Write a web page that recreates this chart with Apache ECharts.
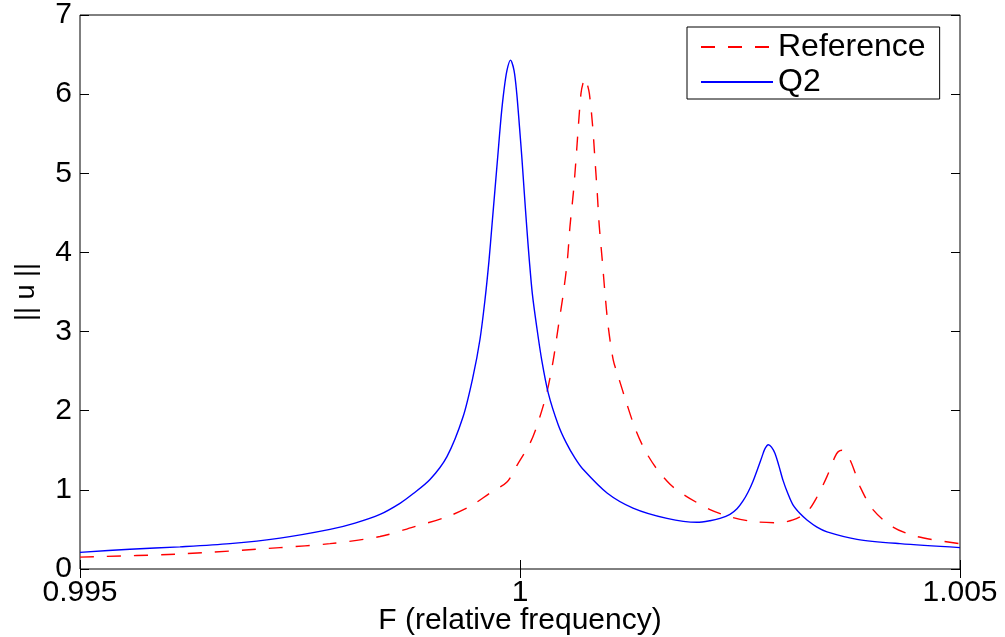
<!DOCTYPE html>
<html>
<head>
<meta charset="utf-8">
<script src="https://cdn.jsdelivr.net/npm/echarts@6/dist/echarts.min.js"></script>
<style>
  html, body { margin: 0; padding: 0; background: #fff; }
  #chart { width: 1005px; height: 637px; }
</style>
</head>
<body>
<div id="chart"></div>
<script>
// relative frequency / ||u||
var q2F = [0.995000, 0.995568, 0.996136, 0.996705, 0.997273, 0.997841, 0.998125, 0.998409, 0.998636, 0.998784,
  0.998977, 0.999170, 0.999352, 0.999466, 0.999545, 0.999602, 0.999648, 0.999682, 0.999716, 0.999750,
  0.999784, 0.999818, 0.999852, 0.999892, 0.999932, 0.999963, 0.999994, 1.000023, 1.000049, 1.000076,
  1.000106, 1.000140, 1.000190, 1.000247, 1.000322, 1.000435, 1.000523, 1.000625, 1.000716, 1.000989,
  1.001284, 1.001670, 1.002011, 1.002159, 1.002273, 1.002386, 1.002466, 1.002534, 1.002591, 1.002648,
  1.002705, 1.002750, 1.002784, 1.002822, 1.002858, 1.002898, 1.002943, 1.002989, 1.003045, 1.003102,
  1.003182, 1.003261, 1.003375, 1.003489, 1.003830, 1.004318, 1.005000];
var q2U = [0.21, 0.25, 0.28, 0.32, 0.39, 0.50, 0.58, 0.69, 0.83, 0.95,
  1.13, 1.42, 1.92, 2.43, 2.90, 3.40, 3.90, 4.35, 4.80, 5.25,
  5.70, 6.05, 6.30, 6.43, 6.30, 6.01, 5.59, 5.17, 4.75, 4.33,
  3.90, 3.48, 3.06, 2.64, 2.22, 1.82, 1.60, 1.40, 1.26, 0.96,
  0.77, 0.64, 0.59, 0.61, 0.64, 0.69, 0.76, 0.86, 0.97, 1.11,
  1.28, 1.42, 1.52, 1.57, 1.54, 1.46, 1.30, 1.12, 0.95, 0.81,
  0.70, 0.62, 0.53, 0.47, 0.375, 0.32, 0.27];

var refF = [0.995000, 0.996136, 0.997273, 0.997841, 0.998409, 0.998784, 0.999170, 0.999432, 0.999659, 0.999852,
  0.999966, 1.000114, 1.000190, 1.000303, 1.000378, 1.000435, 1.000492, 1.000538, 1.000568, 1.000606,
  1.000636, 1.000663, 1.000693, 1.000716, 1.000739, 1.000761, 1.000788, 1.000826, 1.000852, 1.000878,
  1.000901, 1.000935, 1.000966, 1.001003, 1.001060, 1.001117, 1.001213, 1.001307, 1.001420, 1.001557,
  1.001705, 1.001818, 1.001932, 1.002159, 1.002386, 1.002648, 1.002920, 1.003102, 1.003261, 1.003375,
  1.003489, 1.003580, 1.003614, 1.003659, 1.003699, 1.003750, 1.003807, 1.003864, 1.004011, 1.004239,
  1.004511, 1.005000];
var refU = [0.15, 0.19, 0.27, 0.32, 0.41, 0.53, 0.66, 0.79, 0.96, 1.10,
  1.31, 1.59, 1.80, 2.22, 2.64, 3.06, 3.48, 3.90, 4.33, 4.75,
  5.17, 5.59, 6.01, 6.14, 6.20, 6.14, 6.01, 5.59, 5.17, 4.75,
  4.33, 3.90, 3.48, 3.06, 2.64, 2.43, 2.09, 1.78, 1.50, 1.26,
  1.07, 0.97, 0.89, 0.75, 0.66, 0.60, 0.585, 0.62, 0.72, 0.91,
  1.17, 1.42, 1.48, 1.50, 1.46, 1.38, 1.22, 1.04, 0.75, 0.53,
  0.41, 0.32];

var xTicks = [0.995, 1, 1.005];
var seriesNames = ['Reference', 'Q2'];

function pairs(xs, ys) {
  return xs.map(function (x, i) { return [x, ys[i]]; });
}

var font = 'Liberation Sans, Arial, Helvetica, sans-serif';

var chart = echarts.init(document.getElementById('chart'), null, { renderer: 'canvas' });

var hiddenAxis = {
  axisLabel: { show: false },
  axisLine: { show: false },
  axisTick: { show: true, inside: true, length: 9, lineStyle: { color: '#000' } },
  splitLine: { show: false }
};

chart.setOption({
  backgroundColor: '#fff',
  animation: false,
  grid: {
    left: 80, right: 45, top: 15, bottom: 68,
    containLabel: false,
    outerBoundsMode: 'none',
    show: true, borderColor: '#000', borderWidth: 1, backgroundColor: 'transparent'
  },
  legend: {
    data: seriesNames,
    orient: 'vertical',
    left: 687, top: 27,
    padding: [4, 14, 1, 13],
    itemGap: 3,
    itemWidth: 72, itemHeight: 14,
    borderColor: '#000', borderWidth: 1,
    backgroundColor: '#fff',
    itemStyle: { opacity: 0 },
    textStyle: { fontFamily: font, fontSize: 32, color: '#000' }
  },
  xAxis: [{
    type: 'value',
    min: xTicks[0], max: xTicks[xTicks.length - 1], interval: 0.005,
    name: 'F (relative frequency)',
    nameLocation: 'middle',
    nameGap: 37,
    nameMoveOverlap: false,
    nameTextStyle: { fontFamily: font, fontSize: 30, color: '#000', verticalAlign: 'top' },
    axisLine: { show: false },
    axisTick: { show: true, inside: true, length: 9, lineStyle: { color: '#000' } },
    axisLabel: {
      fontFamily: font, fontSize: 30, color: '#000', margin: 9,
      formatter: function (v) { return String(parseFloat(v.toFixed(3))); }
    },
    splitLine: { show: false }
  }, Object.assign({
    type: 'value', position: 'top',
    min: xTicks[0], max: xTicks[xTicks.length - 1], interval: 0.005
  }, hiddenAxis)],
  yAxis: [{
    type: 'value',
    min: 0, max: 7, interval: 1,
    name: '|| u ||',
    nameLocation: 'middle',
    nameRotate: 90,
    nameGap: 40,
    nameMoveOverlap: false,
    nameTextStyle: { fontFamily: font, fontSize: 27, color: '#000' },
    axisLine: { show: false },
    axisTick: { show: true, inside: true, length: 9, lineStyle: { color: '#000' } },
    axisLabel: {
      fontFamily: font, fontSize: 30, color: '#000', margin: 8,
      verticalAlign: 'middle',
      verticalAlignMinLabel: 'middle', verticalAlignMaxLabel: 'middle'
    },
    splitLine: { show: false }
  }, Object.assign({
    type: 'value', position: 'right',
    min: 0, max: 7, interval: 1
  }, hiddenAxis)],
  series: [{
    name: seriesNames[0],
    type: 'line',
    data: pairs(refF, refU),
    showSymbol: false, symbol: 'none',
    smooth: 0.3,
    color: '#ff0000',
    lineStyle: { color: '#ff0000', width: 1.4, type: [14, 13] }
  }, {
    name: seriesNames[1],
    type: 'line',
    data: pairs(q2F, q2U),
    showSymbol: false, symbol: 'none',
    smooth: 0.3,
    color: '#0000ff',
    lineStyle: { color: '#0000ff', width: 1.4, type: 'solid' }
  }]
});
</script>
</body>
</html>
